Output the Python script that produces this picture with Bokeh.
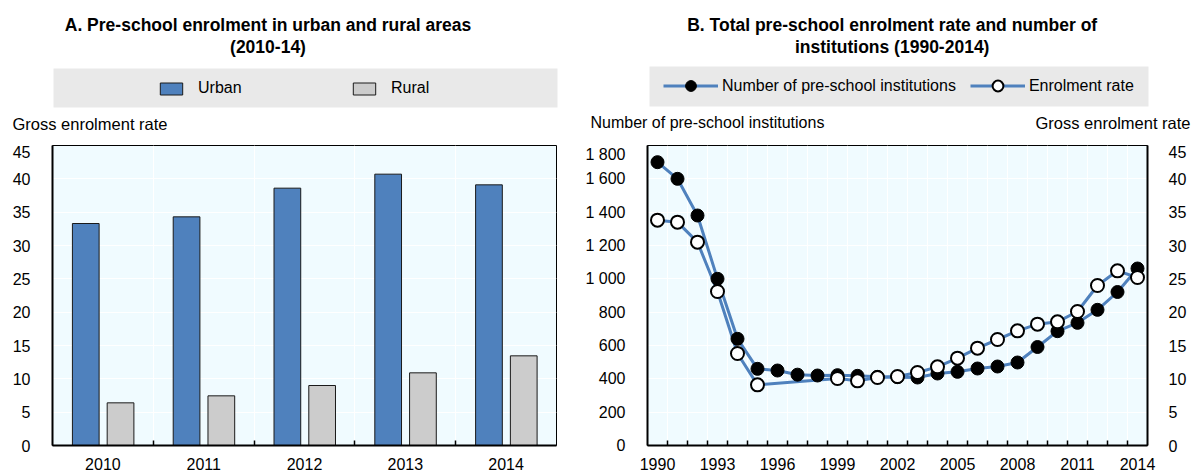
import numpy as np
from bokeh.plotting import figure
from bokeh.models import (Range1d, LinearAxis, FixedTicker, Label, Legend, LegendItem,
                          BoxAnnotation, ColumnDataSource)
from bokeh.layouts import row, column
from bokeh.transform import dodge
from bokeh.embed import file_html
from bokeh.resources import INLINE

# ---------------- data ----------------
years_a = [2010, 2011, 2012, 2013, 2014]
urban = [33.3, 34.3, 38.6, 40.7, 39.1]
rural = [6.4, 7.45, 9.0, 10.9, 13.45]

years_b = list(range(1990, 2015))
institutions = [1700, 1600, 1380, 1000, 640, 460, 450, 425, 420, 422, 418, 412, 410, 408,
                432, 442, 462, 474, 498, 591, 686, 736, 814, 921, 1062]
enrolment = [33.8, 33.5, 30.5, 23.1, 13.8, 9.1, None, None, None, 10.05, 9.7, 10.2, 10.35,
             10.95, 11.8, 13.1, 14.6, 15.9, 17.2, 18.2, 18.55, 20.1, 24.0, 26.2, 25.2]

left_ticks_b = [0, 200, 400, 600, 800, 1000, 1200, 1400, 1600, 1800]
left_tick_labels_b = ["0", "200", "400", "600", "800", "1 000", "1 200", "1 400", "1 600", "1 800"]
rate_ticks = [0, 5, 10, 15, 20, 25, 30, 35, 40, 45]
year_ticks_b = [1990, 1993, 1996, 1999, 2002, 2005, 2008, 2011, 2014]

# ---------------- style ----------------
FONT = "Liberation Sans"
BG = "#F0FBFF"
BLUE = "#4F81BD"
GREY = "#CCCCCC"
LEG_BG = "#E9E9E9"
TICK_SIZE = "16px"
TXT_SIZE = "16.5px"
LEG_SIZE = "16px"
TITLE_SIZE = "17.5px"

W_A, W_B = 580, 612
HEAD_H = 145
CHART_H = 327


def style_axis(ax, standoff):
    ax.axis_line_color = "black"
    ax.axis_line_width = 2
    ax.major_tick_line_color = None
    ax.minor_tick_line_color = None
    ax.major_label_text_font = FONT
    ax.major_label_text_font_size = TICK_SIZE
    ax.major_label_text_color = "black"
    ax.major_label_standoff = standoff


def style_chart(p):
    p.outline_line_color = "black"
    p.outline_line_width = 1
    p.xaxis.minor_tick_line_color = "black"
    p.xaxis.minor_tick_line_width = 1.5
    p.xaxis.minor_tick_in = 5
    p.xaxis.minor_tick_out = 0
    p.xgrid.grid_line_color = None
    p.xgrid.minor_grid_line_color = "white"
    p.xgrid.minor_grid_line_width = 1
    p.ygrid.grid_line_color = "white"
    p.ygrid.grid_line_width = 1


# ================= header (titles, legends, axis titles) =================
hdr = figure(width=W_A + W_B, height=HEAD_H, x_range=Range1d(0, W_A + W_B),
             y_range=Range1d(HEAD_H, 0), x_axis_type=None, y_axis_type=None,
             output_backend="svg", toolbar_location=None, min_border=0,
             outline_line_color=None, background_fill_color="white", border_fill_color="white")
hdr.grid.visible = False


def head_text(x, y, text, align="left", bold=False, size=TXT_SIZE):
    hdr.add_layout(Label(x=x, y=y, text=text, text_align=align, text_baseline="middle",
                         text_font=FONT, text_font_size=size,
                         text_font_style="bold" if bold else "normal", text_color="black"))


head_text(267.5, 24, "A. Pre-school enrolment in urban and rural areas", "center", True, TITLE_SIZE)
head_text(267.5, 46, "(2010-14)", "center", True, TITLE_SIZE)
head_text(891.7, 24, "B. Total pre-school enrolment rate and number of", "center", True, TITLE_SIZE)
head_text(891.7, 46, "institutions (1990-2014)", "center", True, TITLE_SIZE)
head_text(12, 123, "Gross enrolment rate")
head_text(590, 122, "Number of pre-school institutions", size=LEG_SIZE)
head_text(1190, 122, "Gross enrolment rate", "right")

# legend background bands (span the plot areas)
hdr.add_layout(BoxAnnotation(left=53, right=557, top=68, bottom=107,
                             fill_color=LEG_BG, fill_alpha=1, line_color=None))
hdr.add_layout(BoxAnnotation(left=649, right=1148, top=66, bottom=106,
                             fill_color=LEG_BG, fill_alpha=1, line_color=None))

# legend key glyphs (NaN data: nothing drawn, used only as legend samples)
nan = [np.nan]
kA_u = hdr.vbar(x=nan, top=nan, width=1, fill_color=BLUE, line_color="#1a1a1a", line_width=1)
kA_r = hdr.vbar(x=nan, top=nan, width=1, fill_color=GREY, line_color="#1a1a1a", line_width=1)
legA = Legend(items=[LegendItem(label="Urban", renderers=[kA_u]),
                     LegendItem(label="Rural", renderers=[kA_r])],
              orientation="horizontal", location=(157, 47), padding=0, margin=0,
              background_fill_alpha=0, border_line_color=None,
              glyph_width=28, glyph_height=15, label_height=20, label_standoff=13,
              label_width=100, spacing=52,
              label_text_font=FONT, label_text_font_size=LEG_SIZE, label_text_color="black")
hdr.add_layout(legA)

kB_l1 = hdr.line(x=nan, y=nan, line_color=BLUE, line_width=3)
kB_s1 = hdr.scatter(x=nan, y=nan, fill_color="black", line_color="black")
kB_l2 = hdr.line(x=nan, y=nan, line_color=BLUE, line_width=3)
kB_s2 = hdr.scatter(x=nan, y=nan, fill_color="white", line_color="black", line_width=2)
legB = Legend(items=[LegendItem(label="Number of pre-school institutions", renderers=[kB_l1, kB_s1]),
                     LegendItem(label="Enrolment rate", renderers=[kB_l2, kB_s2])],
              orientation="horizontal", location=(663, 46), padding=0, margin=0,
              background_fill_alpha=0, border_line_color=None,
              glyph_width=55, glyph_height=27, label_height=20, label_standoff=4, spacing=14,
              label_text_font=FONT, label_text_font_size=LEG_SIZE, label_text_color="black")
hdr.add_layout(legB)

# ================= Panel A =================
srcA = ColumnDataSource(dict(year=years_a, urban=urban, rural=rural))
p1 = figure(width=W_A, height=CHART_H, x_range=Range1d(2009.5, 2014.5), y_range=Range1d(0, 45),
            output_backend="svg", toolbar_location=None,
            min_border_left=52, min_border_right=24, min_border_top=0, min_border_bottom=25,
            background_fill_color=BG, border_fill_color="white")
p1.xaxis.ticker = FixedTicker(ticks=years_a, minor_ticks=[y + 0.5 for y in years_a[:-1]])
p1.yaxis.ticker = FixedTicker(ticks=rate_ticks)
style_axis(p1.xaxis[0], 6)
style_axis(p1.yaxis[0], 16)
style_chart(p1)

p1.vbar(x=dodge("year", -0.17, range=p1.x_range), top="urban", width=0.265, source=srcA,
        fill_color=BLUE, line_color="#1a1a1a", line_width=1)
p1.vbar(x=dodge("year", 0.175, range=p1.x_range), top="rural", width=0.265, source=srcA,
        fill_color=GREY, line_color="#1a1a1a", line_width=1)

# ================= Panel B =================
srcI = ColumnDataSource(dict(year=years_b, inst=institutions))
ey = [y for y, v in zip(years_b, enrolment) if v is not None]
ev = [v for v in enrolment if v is not None]
srcE = ColumnDataSource(dict(year=ey, rate=ev))

p2 = figure(width=W_B, height=CHART_H, x_range=Range1d(1989.5, 2014.5), y_range=Range1d(0, 1800),
            output_backend="svg", toolbar_location=None,
            min_border_left=67, min_border_right=45, min_border_top=0, min_border_bottom=25,
            background_fill_color=BG, border_fill_color="white")
p2.extra_y_ranges = {"rate": Range1d(0, 45)}
p2.xaxis.ticker = FixedTicker(ticks=year_ticks_b, minor_ticks=[y + 0.5 for y in years_b[:-1]])
p2.yaxis.ticker = FixedTicker(ticks=left_ticks_b)
p2.yaxis.major_label_overrides = {t: s for t, s in zip(left_ticks_b, left_tick_labels_b)}
style_axis(p2.xaxis[0], 6)
style_axis(p2.yaxis[0], 16)
style_chart(p2)

ax_r = LinearAxis(y_range_name="rate", ticker=FixedTicker(ticks=rate_ticks))
style_axis(ax_r, 15)
p2.add_layout(ax_r, "right")

p2.line("year", "inst", source=srcI, line_color=BLUE, line_width=3)
p2.line("year", "rate", source=srcE, y_range_name="rate", line_color=BLUE, line_width=3)
p2.scatter("year", "inst", source=srcI, size=13, fill_color="black", line_color="black")
p2.scatter("year", "rate", source=srcE, y_range_name="rate", size=13,
           fill_color="white", line_color="black", line_width=2)

layout = column(hdr, row(p1, p2))
open("out.html", "w").write(file_html(layout, INLINE))
